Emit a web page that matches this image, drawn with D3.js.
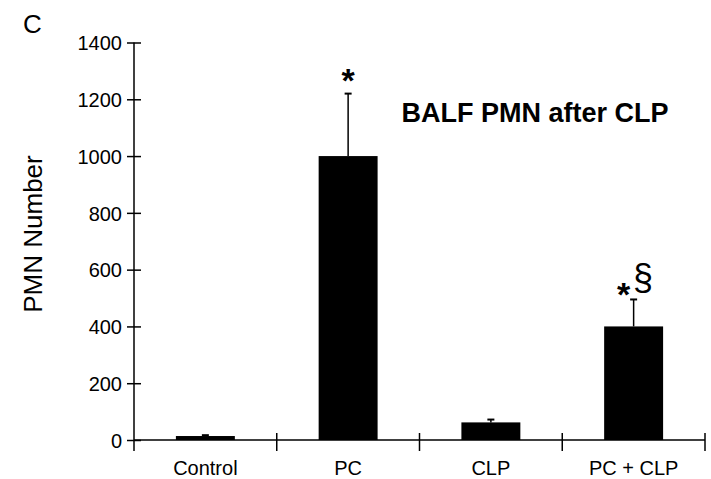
<!DOCTYPE html>
<html>
<head>
<meta charset="utf-8">
<script src="https://cdn.jsdelivr.net/npm/d3@7"></script>
<style>
  body { margin: 0; background: #fff; }
  text { font-family: "Liberation Sans", Arial, sans-serif; fill: #000; }
</style>
</head>
<body>
<div id="chart"></div>
<script>
// data
var groups = ["Control", "PC", "CLP", "PC + CLP"];
var pmnMean = [14, 1000, 62, 400];
var pmnErr = [3, 220, 10, 95];
var sigMarks = ["", "*", "", "*§"];
var yTicks = [0, 200, 400, 600, 800, 1000, 1200, 1400];

var svgWidth = 711;
var svgHeight = 479;

var svg = d3.select("#chart")
    .append("svg")
    .attr("width", svgWidth)
    .attr("height", svgHeight);

// scales
var xScale = d3.scaleBand()
    .domain(groups)
    .range([134, 705])
    .padding(0);

var yScale = d3.scaleLinear()
    .domain([0, 1400])
    .range([440, 42.5]);

var barW = xScale.bandwidth() * 0.413;

// ****************************************************
// y axis with ticks crossing the line
var yAxis = d3.axisLeft(yScale)
    .tickValues(yTicks)
    .tickFormat(d3.format("d"))
    .tickSize(7)
    .tickPadding(5);
var yG = svg.append("g")
    .attr("transform", "translate(134,0)")
    .call(yAxis);
yG.select(".domain").remove();
yG.selectAll(".tick line").attr("x1", 7).attr("x2", -7).attr("stroke-width", 1.5);
yG.selectAll(".tick text")
    .style("font-size", "20px")
    .attr("dy", "0.36em");
yG.append("line")
    .attr("x1", 0).attr("x2", 0)
    .attr("y1", yScale(1400)).attr("y2", 451)
    .attr("stroke", "#000").attr("stroke-width", 1.5);

// x axis line + boundary ticks
svg.append("line")
    .attr("x1", 134).attr("x2", 705)
    .attr("y1", yScale(0)).attr("y2", yScale(0))
    .attr("stroke", "#000").attr("stroke-width", 1.5);

svg.selectAll(".xTick")
    .data(groups)
    .enter()
    .append("line")
    .attr("class", "xTick")
    .attr("x1", function(d) { return xScale(d) + xScale.bandwidth(); })
    .attr("x2", function(d) { return xScale(d) + xScale.bandwidth(); })
    .attr("y1", yScale(0) - 7)
    .attr("y2", yScale(0) + 11)
    .attr("stroke", "#000").attr("stroke-width", 1.5);

svg.selectAll(".xLabel")
    .data(groups)
    .enter()
    .append("text")
    .attr("class", "xLabel")
    .attr("x", function(d) { return xScale(d) + xScale.bandwidth() / 2; })
    .attr("y", 475)
    .attr("text-anchor", "middle")
    .style("font-size", "20px")
    .text(function(d) { return d; });

// ****************************************************
// error bars (upper only)
var cx = function(i) { return xScale(groups[i]) + xScale.bandwidth() / 2; };

svg.selectAll(".errLine")
    .data(pmnMean)
    .enter()
    .append("line")
    .attr("x1", function(d, i) { return cx(i); })
    .attr("x2", function(d, i) { return cx(i); })
    .attr("y1", function(d) { return yScale(d); })
    .attr("y2", function(d, i) { return yScale(d + pmnErr[i]); })
    .attr("stroke", "#000").attr("stroke-width", 1.5);

svg.selectAll(".errCap")
    .data(pmnMean)
    .enter()
    .append("line")
    .attr("x1", function(d, i) { return cx(i) - 3.5; })
    .attr("x2", function(d, i) { return cx(i) + 3.5; })
    .attr("y1", function(d, i) { return yScale(d + pmnErr[i]); })
    .attr("y2", function(d, i) { return yScale(d + pmnErr[i]); })
    .attr("stroke", "#000").attr("stroke-width", 2);

// bars
svg.selectAll(".bar")
    .data(pmnMean)
    .enter()
    .append("rect")
    .attr("class", "bar")
    .attr("x", function(d, i) { return cx(i) - barW / 2; })
    .attr("width", barW)
    .attr("y", function(d) { return yScale(d); })
    .attr("height", function(d) { return yScale(0) - yScale(d); })
    .attr("fill", "#000");

// significance marks: asterisk bold, section sign beside it
sigMarks.forEach(function(m, i) {
    if (!m) return;
    var top = yScale(pmnMean[i] + pmnErr[i]);
    if (m.length === 1) {
        svg.append("text")
            .attr("x", cx(i))
            .attr("y", top - 2)
            .attr("text-anchor", "middle")
            .style("font-size", "34px")
            .style("font-weight", "bold")
            .text(m);
    } else {
        svg.append("text")
            .attr("x", cx(i) - 10)
            .attr("y", top + 6.5)
            .attr("text-anchor", "middle")
            .style("font-size", "34px")
            .style("font-weight", "bold")
            .text(m[0]);
        svg.append("text")
            .attr("x", cx(i) + 9.5)
            .attr("y", top - 9)
            .attr("text-anchor", "middle")
            .style("font-size", "36px")
            .text(m.slice(1));
    }
});

// ****************************************************
// titles and labels
svg.append("text")
    .attr("x", 535)
    .attr("y", 122)
    .attr("text-anchor", "middle")
    .style("font-size", "27px")
    .style("font-weight", "bold")
    .text("BALF PMN after CLP");

svg.append("text")
    .attr("x", 23)
    .attr("y", 33)
    .style("font-size", "26px")
    .text("C");

svg.append("text")
    .attr("transform", "translate(42,234)rotate(-90)")
    .attr("text-anchor", "middle")
    .style("font-size", "26px")
    .text("PMN Number");
</script>
</body>
</html>
